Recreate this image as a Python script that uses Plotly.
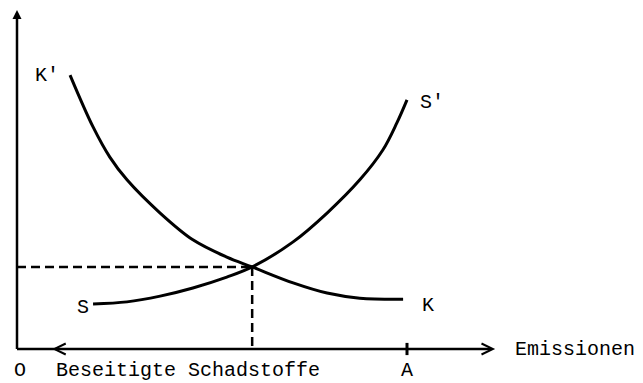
import plotly.graph_objects as go

# --- data (abstract units: O=0, A=100 on the quantity axis) ---
k_x = [13.6, 19.5, 23.8, 28.2, 36.7, 45.1, 53.8, 60.3, 70.8, 79.5, 87.9, 99.0]
k_y = [80.8, 65.5, 56.6, 49.9, 40.1, 32.2, 27.1, 24.2, 19.5, 16.5, 15.0, 14.7]

s_x = [19.5, 28.2, 36.7, 45.1, 53.8, 60.3, 70.8, 79.5, 87.9, 93.8, 97.4, 100.0]
s_y = [13.3, 13.9, 15.6, 18.0, 21.2, 24.2, 31.6, 40.1, 49.9, 58.7, 66.7, 73.5]

eq_x = 60.3
eq_y = 24.2
a_x = 100.0
x_axis_end = 122.6
y_axis_end = 100.0

curve_labels = ["K'", "S", "K", "S'"]
axis_labels = ["O", "Beseitigte Schadstoffe", "A", "Emissionen"]

FONT = "Liberation Mono, Courier New, monospace"
INK = "black"

fig = go.Figure()

# curves
fig.add_trace(go.Scatter(x=k_x, y=k_y, mode="lines", line=dict(color=INK, width=3, shape="spline", smoothing=1.0),
                         hoverinfo="skip", showlegend=False))
fig.add_trace(go.Scatter(x=s_x, y=s_y, mode="lines", line=dict(color=INK, width=3, shape="spline", smoothing=1.0),
                         hoverinfo="skip", showlegend=False))

# dashed guide lines
fig.add_trace(go.Scatter(x=[0, eq_x], y=[eq_y, eq_y], mode="lines",
                         line=dict(color=INK, width=2.5, dash="9px,5px"), hoverinfo="skip", showlegend=False))
fig.add_trace(go.Scatter(x=[eq_x, eq_x], y=[eq_y, 0], mode="lines",
                         line=dict(color=INK, width=2.5, dash="9px,5px"), hoverinfo="skip", showlegend=False))

# axes lines
fig.add_trace(go.Scatter(x=[0, x_axis_end - 1], y=[0, 0], mode="lines",
                         line=dict(color=INK, width=2.5), hoverinfo="skip", showlegend=False))
fig.add_trace(go.Scatter(x=[0, 0], y=[0, y_axis_end - 1], mode="lines",
                         line=dict(color=INK, width=2.5), hoverinfo="skip", showlegend=False))
# tick at A
fig.add_trace(go.Scatter(x=[a_x, a_x], y=[-1.8, 1.8], mode="lines",
                         line=dict(color=INK, width=3), hoverinfo="skip", showlegend=False))

label_y = (349 - 370) / 3.39

annotations = [
    # arrowheads
    dict(x=0, y=y_axis_end, ax=0, ay=y_axis_end - 8, xref="x", yref="y", axref="x", ayref="y",
         text="", showarrow=True, arrowhead=2, arrowsize=0.9, arrowwidth=2, arrowcolor=INK),
    dict(x=x_axis_end, y=0, ax=x_axis_end - 8, ay=0, xref="x", yref="y", axref="x", ayref="y",
         text="", showarrow=True, arrowhead=5, arrowsize=1, arrowwidth=2.2, arrowcolor=INK),
    dict(x=9.0, y=0, ax=17.0, ay=0, xref="x", yref="y", axref="x", ayref="y",
         text="", showarrow=True, arrowhead=5, arrowsize=1, arrowwidth=2.2, arrowcolor=INK),
    # curve labels
    dict(x=7.7, y=80.8, text=curve_labels[0], showarrow=False, xanchor="center", yanchor="middle"),
    dict(x=16.9, y=12.1, text=curve_labels[1], showarrow=False, xanchor="center", yanchor="middle"),
    dict(x=105.4, y=12.7, text=curve_labels[2], showarrow=False, xanchor="center", yanchor="middle"),
    dict(x=106.4, y=72.6, text=curve_labels[3], showarrow=False, xanchor="center", yanchor="middle"),
    # axis labels
    dict(x=0.8, y=label_y, text=axis_labels[0], showarrow=False, xanchor="center", yanchor="middle"),
    dict(x=9.7, y=label_y, text=axis_labels[1], showarrow=False, xanchor="left", yanchor="middle"),
    dict(x=a_x, y=label_y, text=axis_labels[2], showarrow=False, xanchor="center", yanchor="middle"),
    dict(x=127.4, y=0, text=axis_labels[3], showarrow=False, xanchor="left", yanchor="middle"),
]
for a in annotations:
    a.setdefault("font", dict(family=FONT, size=20, color=INK))
    a.setdefault("borderpad", 0)

fig.update_layout(
    width=643, height=383,
    margin=dict(l=0, r=0, t=0, b=0),
    paper_bgcolor="white", plot_bgcolor="white",
    xaxis=dict(range=[-17 / 3.9, (643 - 17) / 3.9], visible=False, fixedrange=True),
    yaxis=dict(range=[(349 - 383) / 3.39, 349 / 3.39], visible=False, fixedrange=True),
    annotations=annotations,
    showlegend=False,
)

fig.write_html("out.html", config={"displayModeBar": False},
               post_script="document.body.style.margin='0px';document.body.style.overflow='hidden';")
